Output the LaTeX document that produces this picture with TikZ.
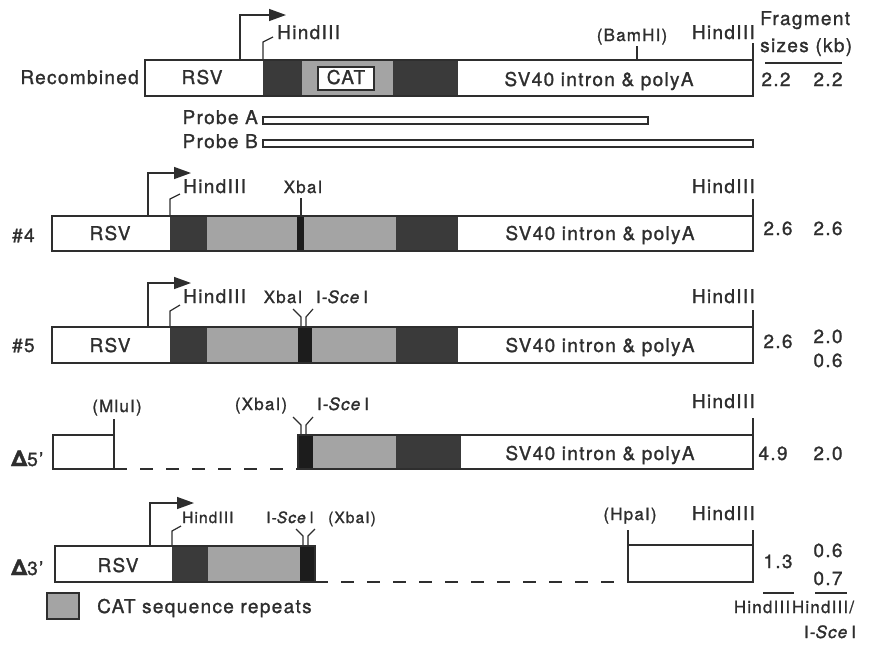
\documentclass[tikz,border=0pt]{standalone}
\usepackage{fontspec}
\setmainfont{TeX Gyre Heros}[LetterSpace=7, FakeBold=1.3]
\usepackage{tikz}
\usetikzlibrary{arrows.meta}

\definecolor{ink}{HTML}{2E2E2E}
\definecolor{darkrep}{HTML}{3A3A3A}
\definecolor{lightrep}{HTML}{A4A4A4}
\definecolor{sitecol}{HTML}{1C1C1C}

\begin{document}
\begin{tikzpicture}[x=1pt, y=-1pt,
    lbl/.style={font=\fontsize{19}{19}\selectfont, text=ink, inner sep=0pt, anchor=base},
    small/.style={lbl, font=\fontsize{17}{17}\selectfont},
    tiny/.style={lbl, font=\fontsize{15.5}{16}\selectfont},
    seg/.style={draw=ink, line width=1.4pt},
    tick/.style={draw=ink, line width=1.2pt},
    darkfill/.style={fill=darkrep},
    lightfill/.style={fill=lightrep},
    sitefill/.style={fill=sitecol},
    prom/.style={draw=ink, line width=1.4pt, -{Triangle[length=17pt,width=12pt]}},
    gap/.style={draw=ink, line width=1.4pt, dash pattern=on 13pt off 13pt},
    probe/.style={draw=ink, line width=1.1pt, fill=white}]
    \useasboundingbox (0,0) rectangle (883,646);

    % Recombined
    \fill[darkfill] (263,60) rectangle (302,96);
    \fill[lightfill] (302,60) rectangle (393,96);
    \fill[darkfill] (393,60) rectangle (458,96);
    \draw[seg] (145,60) rectangle (753,96);
    \draw[seg, fill=white] (318,67) rectangle (374,90);
    \node[lbl] (cat) at (346,84) {CAT};
    \node[lbl] (rsva) at (202,84) {RSV};
    \node[lbl] (sva) at (599,86) {SV40 intron \& polyA};
    \node[lbl, anchor=base east] (recomb) at (139,84) {Recombined};
    \draw[prom] (240,60) -- (240,15) -- (286,15);
    \draw[tick] (263,60) -- (263,42) -- (273,37);
    \node[lbl, anchor=base west] (hinda) at (277,39) {HindIII};
    \draw[tick] (637,60) -- (637,46);
    \node[small] (bama) at (632,41) {(BamHI)};
    \draw[tick] (753,60) -- (753,43);
    \node[lbl, anchor=base east] (hindaa) at (755,39) {HindIII};

    % Fragment sizes
    \node[lbl, anchor=base west] (frag) at (760,25) {Fragment};
    \node[lbl, anchor=base west] (sizes) at (760,52) {sizes (kb)};
    \draw[tick] (765,63) -- (842,63);
    \node[lbl] (sza) at (776,86) {2.2};
    \node[lbl] (szaa) at (828,86) {2.2};

    % Probes
    \draw[probe] (263,117) rectangle (648,124);
    \node[lbl, anchor=base east] (proba) at (258,124) {Probe A};
    \draw[probe] (263,140) rectangle (753,147);
    \node[lbl, anchor=base east] (probb) at (258,148) {Probe B};

    % #4
    \fill[darkfill] (170,216) rectangle (207,251);
    \fill[lightfill] (207,216) rectangle (297,251);
    \fill[sitefill] (297,216) rectangle (304,251);
    \fill[lightfill] (304,216) rectangle (396,251);
    \fill[darkfill] (396,216) rectangle (458,251);
    \draw[seg] (52,216) rectangle (753,251);
    \draw[prom] (148,216) -- (148,173) -- (191,173);
    \draw[tick] (170,216) -- (170,199) -- (180,194);
    \node[lbl, anchor=base west] (hindb) at (183,193) {HindIII};
    \draw[tick] (301,216) -- (301,198);
    \node[small] (xbab) at (303,193) {XbaI};
    \draw[tick] (753,216) -- (753,199);
    \node[lbl, anchor=base east] (hindbb) at (755,193) {HindIII};
    \node[lbl, anchor=base west] (four) at (12,242) {\#4};
    \node[lbl] (rsvb) at (110,240) {RSV};
    \node[lbl] (svb) at (600,240) {SV40 intron \& polyA};
    \node[lbl] (szb) at (778,235) {2.6};
    \node[lbl] (szbb) at (828,235) {2.6};

    % #5
    \fill[darkfill] (170,327) rectangle (207,363);
    \fill[lightfill] (207,327) rectangle (298,363);
    \fill[sitefill] (298,327) rectangle (312,363);
    \fill[lightfill] (312,327) rectangle (396,363);
    \fill[darkfill] (396,327) rectangle (458,363);
    \draw[seg] (52,327) rectangle (753,363);
    \draw[prom] (148,327) -- (148,283) -- (191,283);
    \draw[tick] (170,327) -- (170,311) -- (180,305);
    \node[lbl, anchor=base west] (hindc) at (183,303) {HindIII};
    \draw[tick] (301,327) -- (301,317) -- (293,309);
    \draw[tick] (306,327) -- (306,317) -- (313,309);
    \node[small] (xbac) at (283,303) {XbaI};
    \node[small] (scec) at (342,303) {I-\textit{Sce}\,I};
    \draw[tick] (753,327) -- (753,310);
    \node[lbl, anchor=base east] (hindcc) at (755,303) {HindIII};
    \node[lbl, anchor=base west] (five) at (12,352) {\#5};
    \node[lbl] (rsvc) at (110,352) {RSV};
    \node[lbl] (svc) at (600,352) {SV40 intron \& polyA};
    \node[lbl] (szc) at (778,348) {2.6};
    \node[lbl] (szcc) at (828,343) {2.0};
    \node[lbl] (szccc) at (828,367) {0.6};

    % Delta 5'
    \draw[seg] (114,435) -- (53,435) -- (53,469) -- (114,469) -- cycle;
    \draw[tick] (114,435) -- (114,419);
    \node[small] (mlud) at (117,412) {(MluI)};
    \draw[gap] (114,469) -- (298,469);
    \fill[sitefill] (298,435) rectangle (313,469);
    \fill[lightfill] (313,435) rectangle (396,469);
    \fill[darkfill] (396,435) rectangle (461,469);
    \draw[seg] (298,435) rectangle (753,469);
    \draw[tick] (301,435) -- (301,425) -- (293,417);
    \draw[tick] (306,435) -- (306,425) -- (313,417);
    \node[small] (xbad) at (261,410) {(XbaI)};
    \node[small] (sced) at (343,410) {I-\textit{Sce}\,I};
    \draw[tick] (753,435) -- (753,418);
    \node[lbl, anchor=base east] (hindd) at (755,408) {HindIII};
    \node[lbl, anchor=base west] (dfive) at (11,466) {{\bfseries\fontsize{22}{22}\selectfont Δ}5'};
    \node[lbl] (svd) at (600,460) {SV40 intron \& polyA};
    \node[lbl] (szd) at (773,460) {4.9};
    \node[lbl] (szdd) at (828,460) {2.0};

    % Delta 3'
    \fill[darkfill] (172,546) rectangle (208,582);
    \fill[lightfill] (208,546) rectangle (300,582);
    \fill[sitefill] (300,546) rectangle (315,582);
    \draw[seg] (55,546) rectangle (315,582);
    \draw[prom] (150,546) -- (150,503) -- (194,503);
    \draw[tick] (172,546) -- (172,531) -- (181,526);
    \node[tiny, anchor=base west] (hinde) at (182,523) {HindIII};
    \draw[tick] (303,546) -- (303,536) -- (296,529);
    \draw[tick] (308,546) -- (308,536) -- (315,529);
    \node[tiny] (scee) at (290,523) {I-\textit{Sce}\,I};
    \node[tiny] (xbae) at (352,523) {(XbaI)};
    \draw[gap] (315,582) -- (628,582);
    \draw[seg] (628,530) -- (628,582) -- (753,582) -- (753,530);
    \draw[seg] (628,545) -- (753,545);
    \node[small] (hpae) at (630,520) {(HpaI)};
    \node[lbl, anchor=base east] (hindee) at (755,520) {HindIII};
    \node[lbl, anchor=base west] (dthree) at (11,575) {{\bfseries\fontsize{22}{22}\selectfont Δ}3'};
    \node[lbl] (rsve) at (118,572) {RSV};
    \node[lbl] (sze) at (778,568) {1.3};
    \node[lbl] (szee) at (828,557) {0.6};
    \node[lbl] (szeee) at (828,585) {0.7};

    % Column footers
    \draw[tick] (763,593) -- (794,593);
    \draw[tick] (815,593) -- (847,593);
    \node[small] (foothind) at (762,613) {HindIII};
    \node[small] (foothsce) at (823,613) {HindIII/};
    \node[small] (footsce) at (830,638) {I-\textit{Sce}\,I};

    % Legend
    \draw[seg, lightfill] (47,593) rectangle (79,619);
    \node[lbl, anchor=base west] (legend) at (97,613) {CAT sequence repeats};
\end{tikzpicture}
\end{document}
